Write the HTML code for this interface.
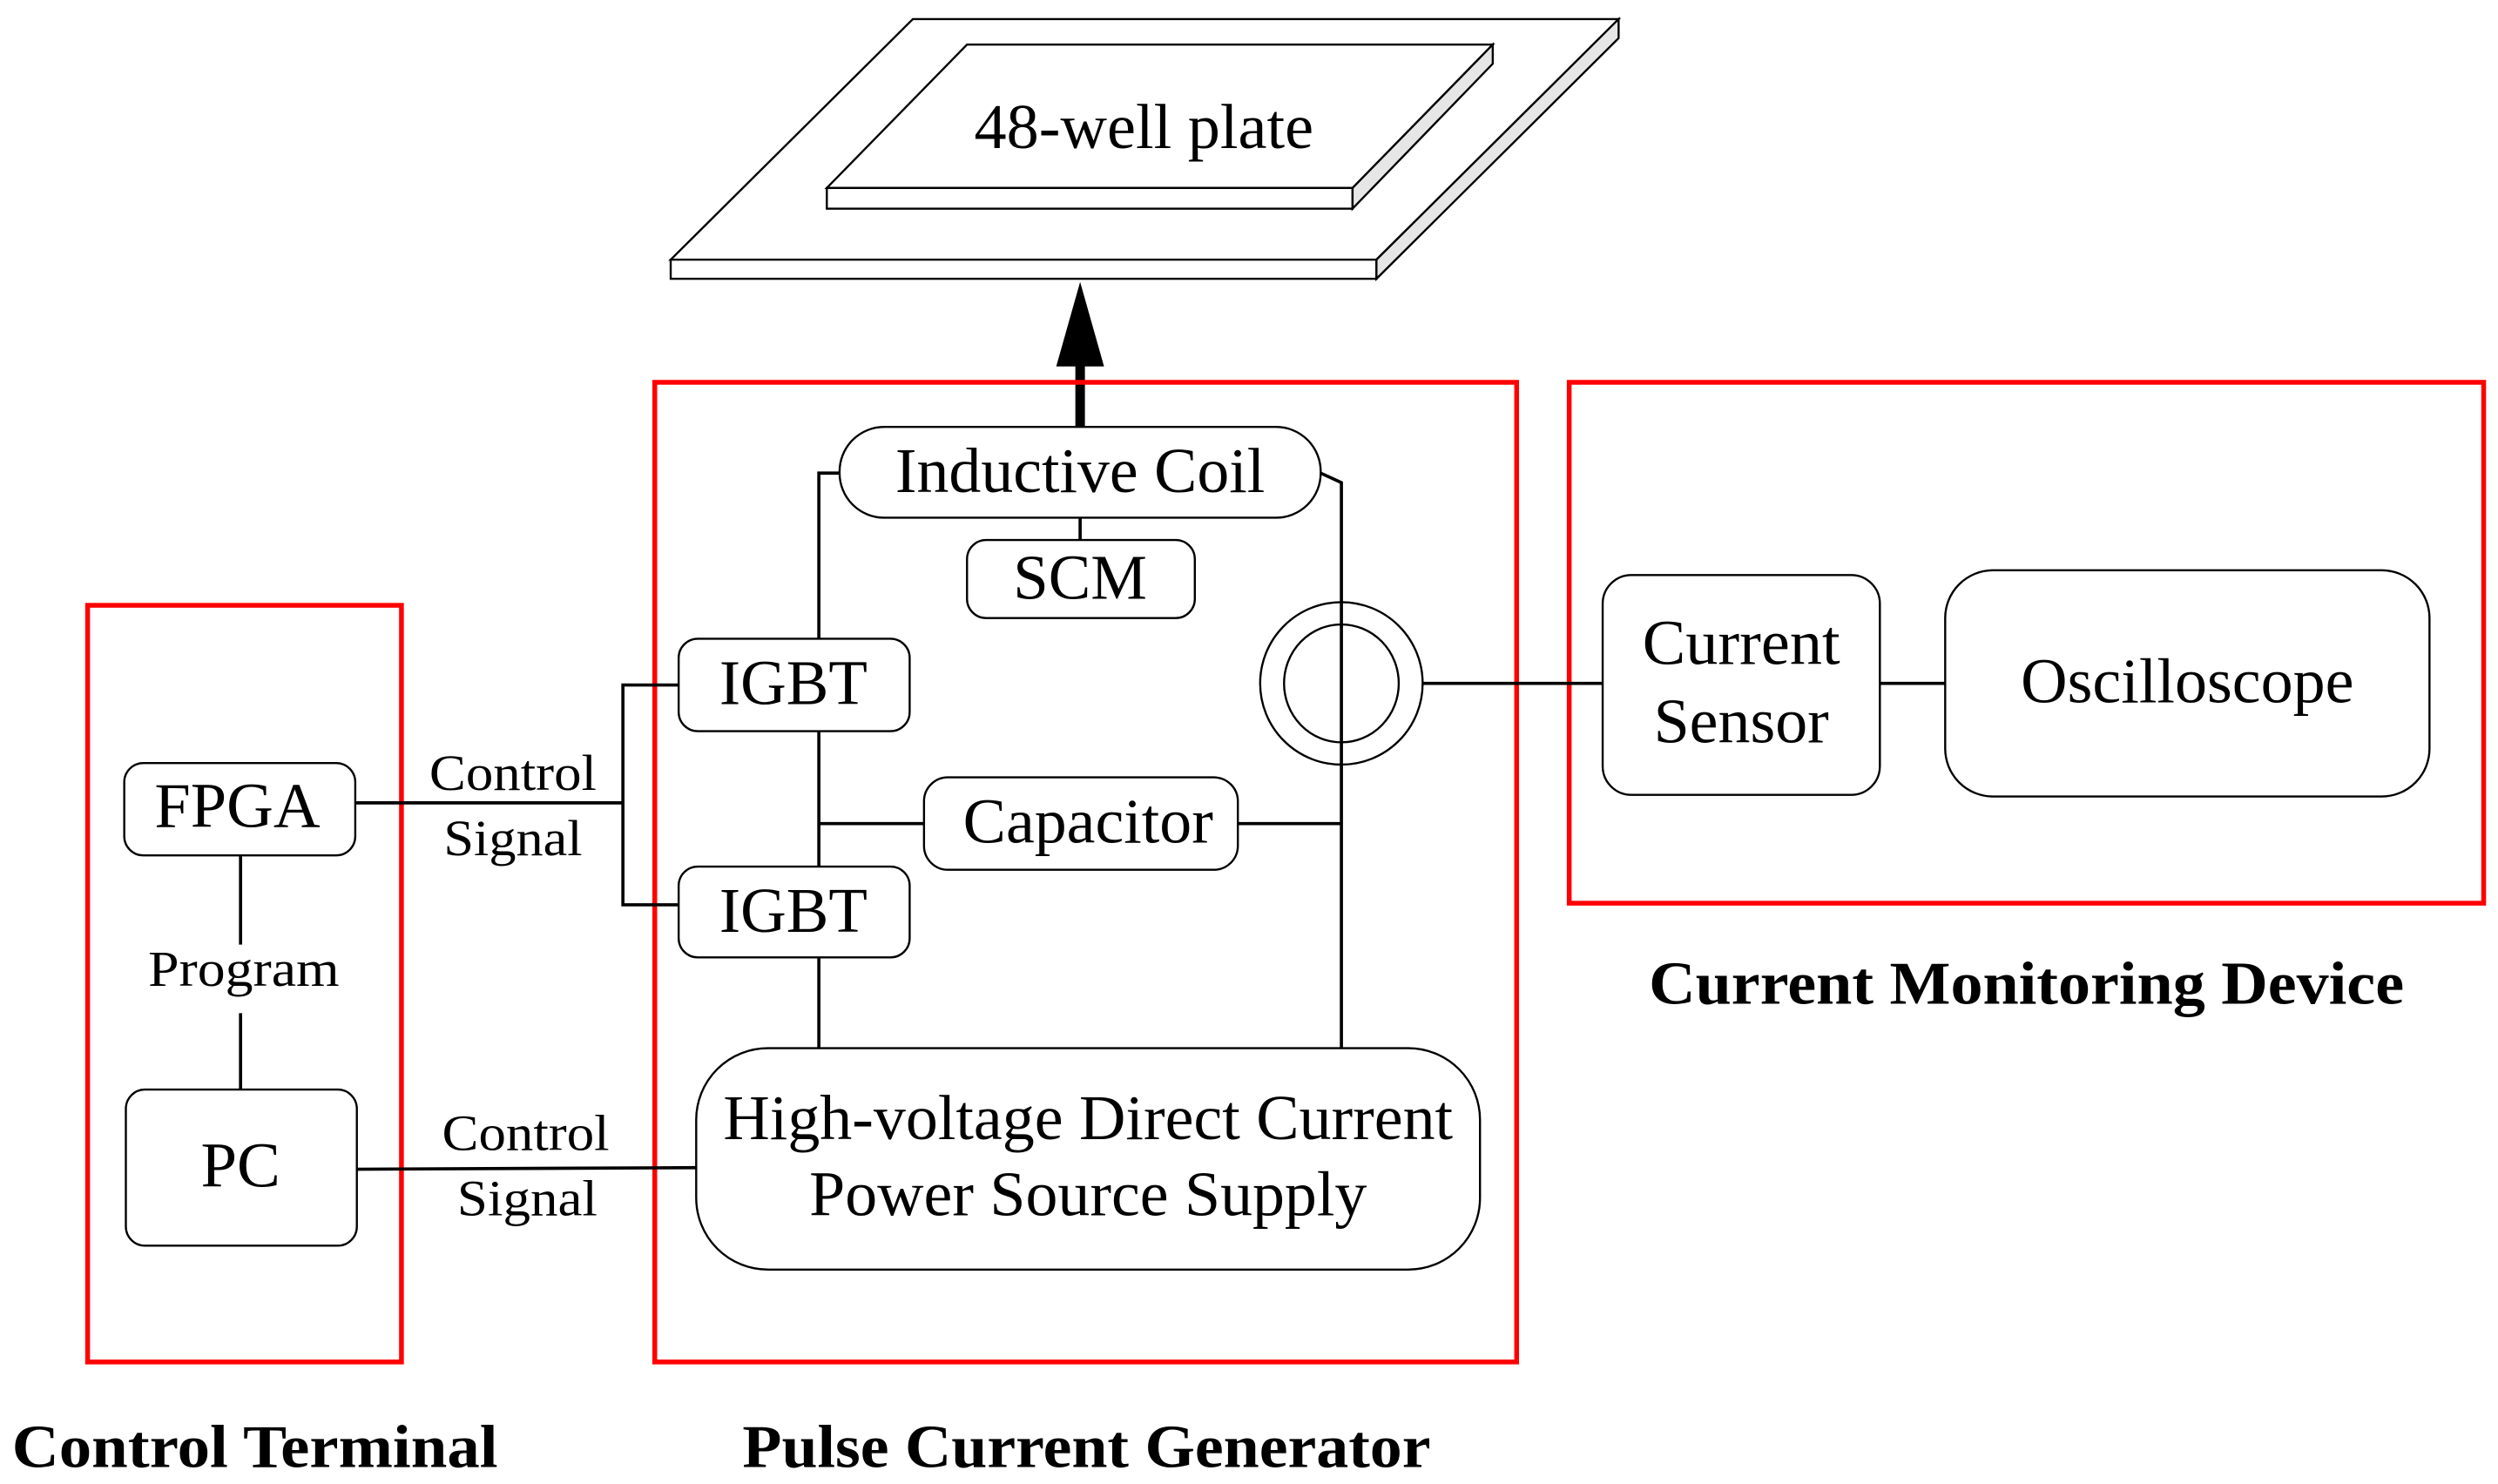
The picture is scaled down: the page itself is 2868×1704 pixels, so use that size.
<!DOCTYPE html>
<html><head><meta charset="utf-8"><style>
html,body{margin:0;padding:0;background:#fff;}
svg{display:block;}
text{font-family:"Liberation Serif",serif;fill:#000;}
</style></head><body>
<svg width="2868" height="1704" viewBox="0 0 1568 931.6" preserveAspectRatio="none" xmlns="http://www.w3.org/2000/svg">
<g stroke="#000" stroke-width="1.3" fill="#fff">
<!-- outer plate -->
<polygon points="573,12 1016,12 864,163 421,163"/>
<rect x="421" y="163" width="443" height="12"/>
<polygon points="864,163 1016,12 1016,24 864,175" fill="#e6e6e6"/>
<!-- inner plate -->
<polygon points="607,28 937,28 849,118 519,118"/>
<rect x="519" y="118" width="330" height="13"/>
<polygon points="849,118 937,28 937,40 849,131" fill="#e6e6e6"/>
</g>
<text x="718" y="93" font-size="40" text-anchor="middle" textLength="213" lengthAdjust="spacingAndGlyphs">48-well plate</text>
<!-- arrow -->
<line x1="678" y1="268" x2="678" y2="225" stroke="#000" stroke-width="6"/>
<polygon points="678,177 663,230 693,230" fill="#000"/>
<!-- red boxes -->
<g fill="none" stroke="#ff0000" stroke-width="3">
<rect x="55" y="380" width="197" height="475"/>
<rect x="411" y="240" width="541" height="615"/>
<rect x="985" y="240" width="574" height="327"/>
</g>
<!-- wires -->
<g stroke="#000" stroke-width="2" fill="none">
<polyline points="527,297 514,297 514,401"/>
<line x1="514" y1="459" x2="514" y2="544"/>
<line x1="514" y1="601" x2="514" y2="658"/>
<polyline points="829,297 842,303 842,658"/>
<line x1="678" y1="325" x2="678" y2="339"/>
<line x1="514" y1="517" x2="580" y2="517"/>
<line x1="777" y1="517" x2="842" y2="517"/>
<line x1="893" y1="429" x2="1006" y2="429"/>
<line x1="1180" y1="429" x2="1221" y2="429"/>
<line x1="223" y1="504" x2="391" y2="504"/>
<polyline points="426,430 391,430 391,568 426,568"/>
<line x1="151" y1="537" x2="151" y2="593"/>
<line x1="151" y1="636" x2="151" y2="684"/>
<line x1="224" y1="734" x2="437" y2="733"/>
</g>
<g stroke="#000" stroke-width="1.3" fill="none">
<ellipse cx="842" cy="429" rx="51" ry="51"/>
<ellipse cx="842" cy="429" rx="36" ry="37"/>
</g>
<!-- boxes -->
<g stroke="#000" stroke-width="1.3" fill="#fff">
<rect x="527" y="268" width="302" height="57" rx="28"/>
<rect x="607" y="339" width="143" height="49" rx="12"/>
<rect x="426" y="401" width="145" height="58" rx="12"/>
<rect x="426" y="544" width="145" height="57" rx="12"/>
<rect x="580" y="488" width="197" height="58" rx="15"/>
<rect x="437" y="658" width="492" height="139" rx="45"/>
<rect x="78" y="479" width="145" height="58" rx="12"/>
<rect x="79" y="684" width="145" height="98" rx="12"/>
<rect x="1006" y="361" width="174" height="138" rx="18"/>
<rect x="1221" y="358" width="304" height="142" rx="30"/>
</g>
<g font-size="40" text-anchor="middle" lengthAdjust="spacingAndGlyphs">
<text x="678" y="309" textLength="232" lengthAdjust="spacingAndGlyphs">Inductive Coil</text>
<text x="678" y="376" textLength="84" lengthAdjust="spacingAndGlyphs">SCM</text>
<text x="498" y="442" textLength="93" lengthAdjust="spacingAndGlyphs">IGBT</text>
<text x="498" y="585" textLength="93" lengthAdjust="spacingAndGlyphs">IGBT</text>
<text x="683" y="529" textLength="157" lengthAdjust="spacingAndGlyphs">Capacitor</text>
<text x="683" y="715" textLength="458" lengthAdjust="spacingAndGlyphs">High-voltage Direct Current</text>
<text x="683" y="763" textLength="350" lengthAdjust="spacingAndGlyphs">Power Source Supply</text>
<text x="149" y="519" textLength="104" lengthAdjust="spacingAndGlyphs">FPGA</text>
<text x="151" y="745" textLength="50" lengthAdjust="spacingAndGlyphs">PC</text>
<text x="1093" y="417" textLength="124" lengthAdjust="spacingAndGlyphs">Current</text>
<text x="1093" y="466" textLength="110" lengthAdjust="spacingAndGlyphs">Sensor</text>
<text x="1373" y="441" textLength="209" lengthAdjust="spacingAndGlyphs">Oscilloscope</text>
</g>
<g font-size="32" text-anchor="middle">
<text x="322" y="496" textLength="105" lengthAdjust="spacingAndGlyphs">Control</text>
<text x="322" y="537" textLength="87" lengthAdjust="spacingAndGlyphs">Signal</text>
<text x="330" y="722" textLength="105" lengthAdjust="spacingAndGlyphs">Control</text>
<text x="331" y="763" textLength="88" lengthAdjust="spacingAndGlyphs">Signal</text>
<text x="153" y="619" textLength="120" lengthAdjust="spacingAndGlyphs">Program</text>
</g>
<g font-size="38" font-weight="bold" text-anchor="middle">
<text x="160" y="921" textLength="305" lengthAdjust="spacingAndGlyphs">Control Terminal</text>
<text x="682" y="921" textLength="432" lengthAdjust="spacingAndGlyphs">Pulse Current Generator</text>
<text x="1272" y="630" textLength="474" lengthAdjust="spacingAndGlyphs">Current Monitoring Device</text>
</g>
</svg>
</body></html>
